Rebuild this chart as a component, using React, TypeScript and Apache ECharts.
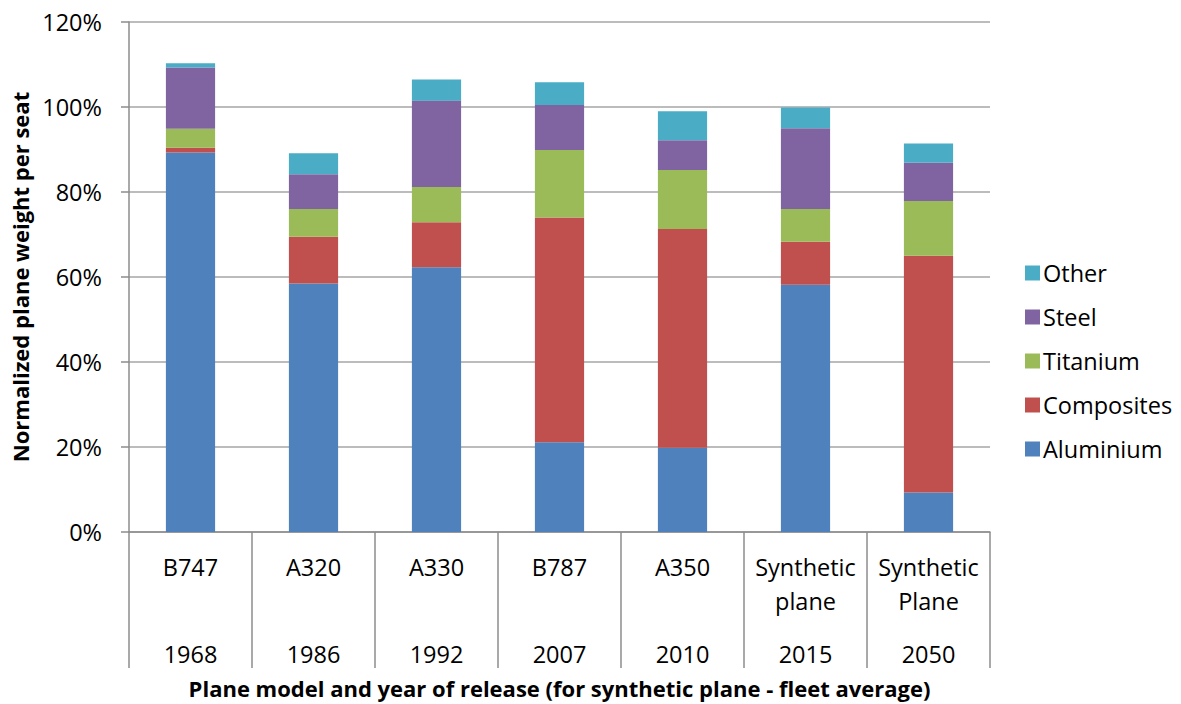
import React, { useEffect, useRef } from "react";
import * as echarts from "echarts";

const models = ["B747", "A320", "A330", "B787", "A350", "Synthetic\nplane", "Synthetic\nPlane"];
const years = ["1968", "1986", "1992", "2007", "2010", "2015", "2050"];
const aluminium = [89.3, 58.5, 62.3, 21.1, 19.8, 58.2, 9.3];
const composites = [1.1, 11.0, 10.6, 52.9, 51.5, 10.1, 55.7];
const titanium = [4.5, 6.5, 8.3, 15.9, 13.9, 7.7, 12.9];
const steel = [14.4, 8.2, 20.3, 10.6, 7.0, 19.0, 9.0];
const other = [1.0, 4.9, 5.0, 5.3, 6.8, 4.9, 4.5];
const yTicks = [0, 20, 40, 60, 80, 100, 120];

const FONT = "'Open Sans', 'Noto Sans', sans-serif";

export default function App() {
  const ref = useRef<HTMLDivElement>(null);
  useEffect(() => {
    if (!ref.current) return;
    const chart = echarts.init(ref.current, null, { renderer: "svg" });
    const categories = models.map((m, i) => {
      const parts = m.split("\n");
      const second = parts[1] ?? " ";
      return `{n|${parts[0]}}\n{n|${second}}\n{y|${years[i]}}`;
    });
    const mk = (name: string, data: number[], color: string) => ({
      name,
      type: "bar",
      stack: "total",
      data,
      barWidth: "40%",
      itemStyle: { color },
    });
    chart.setOption({
      animation: false,
      textStyle: { fontFamily: FONT },
      grid: { left: 129, right: 191, top: 22, bottom: 172, outerBoundsMode: "none", containLabel: false },
      legend: {
        orient: "vertical",
        left: 1020,
        top: 256,
        itemWidth: 15,
        itemHeight: 15,
        itemGap: 20,
        icon: "rect",
        data: ["Other", "Steel", "Titanium", "Composites", "Aluminium"],
        textStyle: { fontSize: 23.5, lineHeight: 24, color: "#000", fontFamily: FONT, padding: [0, 0, 0, -2] },
      },
      xAxis: {
        type: "category",
        data: categories,
        name: "Plane model and year of release (for synthetic plane - fleet average)",
        nameLocation: "middle",
        nameGap: 145,
        nameTextStyle: { fontSize: 22, fontWeight: "bold", color: "#000", fontFamily: FONT },
        axisLine: { lineStyle: { color: "#8c8c8c", width: 1.5 } },
        axisTick: { show: true, length: 136, alignWithLabel: false, lineStyle: { color: "#8c8c8c", width: 1.5 } },
        axisLabel: {
          margin: 18,
          interval: 0,
          color: "#000",
          rich: {
            n: { fontSize: 23.5, lineHeight: 34, fontFamily: FONT, color: "#000" },
            y: { fontSize: 23.5, lineHeight: 72, fontFamily: FONT, color: "#000" },
          },
        },
      },
      yAxis: {
        type: "value",
        min: 0,
        max: 120,
        interval: 20,
        name: "Normalized plane weight per seat",
        nameLocation: "middle",
        nameGap: 96,
        nameTextStyle: { fontSize: 22, fontWeight: "bold", color: "#000", fontFamily: FONT },
        axisLine: { show: true, lineStyle: { color: "#8c8c8c", width: 1.5 } },
        axisTick: { show: true, length: 8, lineStyle: { color: "#8c8c8c", width: 1.5 } },
        axisLabel: {
          margin: 27,
          fontSize: 23.5,
          color: "#000",
          fontFamily: FONT,
          formatter: (v: number) => (yTicks.includes(v) ? `${v}%` : ""),
        },
        splitLine: { lineStyle: { color: "#a6a6a6", width: 1.5 } },
      },
      series: [
        mk("Aluminium", aluminium, "#4F81BD"),
        mk("Composites", composites, "#C0504D"),
        mk("Titanium", titanium, "#9BBB59"),
        mk("Steel", steel, "#8064A2"),
        mk("Other", other, "#4BACC6"),
      ],
    });
    return () => chart.dispose();
  }, []);
  return <div ref={ref} style={{ width: 1181, height: 704, position: "absolute", left: 0, top: 0 }} />;
}
